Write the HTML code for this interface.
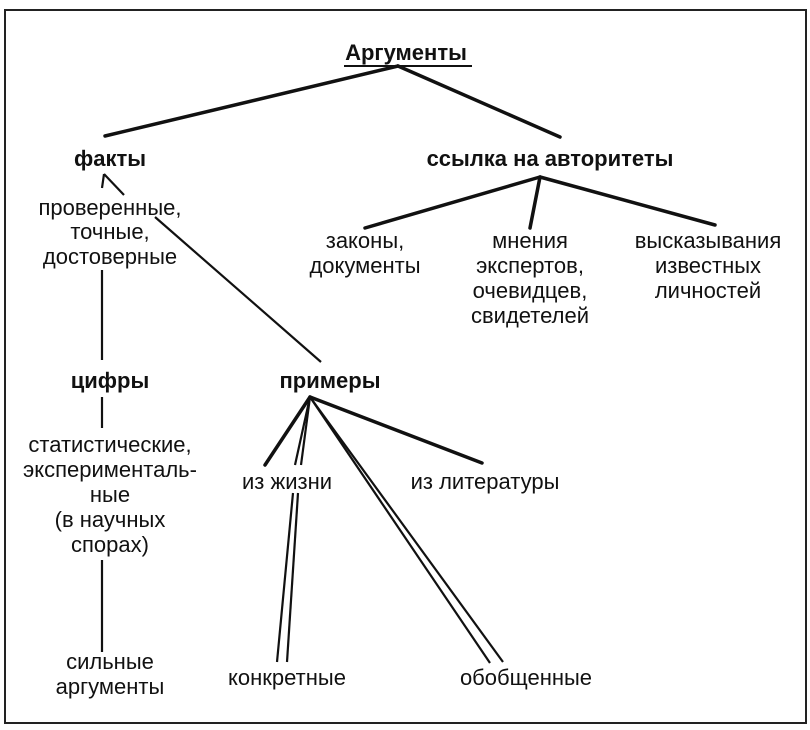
<!DOCTYPE html>
<html><head><meta charset="utf-8"><style>
html,body{margin:0;padding:0;background:#fff;}
svg{display:block;}
text{font-family:"Liberation Sans","DejaVu Sans",sans-serif;font-size:22px;fill:#111;text-anchor:middle;}
.b{font-weight:bold;}
</style></head><body>
<svg width="810" height="730" viewBox="0 0 810 730">
<rect x="5" y="10" width="801" height="713" fill="none" stroke="#222" stroke-width="2"/>
<g stroke="#111" stroke-width="3.5" fill="none" stroke-linecap="round">
<line x1="398" y1="66" x2="105" y2="136"/>
<line x1="398" y1="66" x2="560" y2="137"/>
<line x1="540" y1="177" x2="365" y2="228"/>
<line x1="540" y1="177" x2="530" y2="228"/>
<line x1="540" y1="177" x2="715" y2="225"/>
<line x1="310" y1="397" x2="482" y2="463"/>
<line x1="310" y1="397" x2="265" y2="465"/>
</g>
<g stroke="#111" stroke-width="2.2" fill="none">
<line x1="104" y1="174" x2="124" y2="195"/>
<line x1="104" y1="174" x2="102" y2="188"/>
<line x1="155" y1="217" x2="321" y2="362"/>
<line x1="102" y1="270" x2="102" y2="360"/>
<line x1="102" y1="397" x2="102" y2="428"/>
<line x1="102" y1="560" x2="102" y2="652"/>
<line x1="310" y1="397" x2="295" y2="465"/>
<line x1="310" y1="397" x2="301" y2="465"/>
<line x1="293" y1="493" x2="277" y2="662"/>
<line x1="298" y1="493" x2="287" y2="662"/>
<line x1="310" y1="397" x2="490" y2="663"/>
<line x1="310" y1="397" x2="503" y2="662"/>
</g>
<text class="b" x="406" y="60">Аргументы</text>
<line x1="344" y1="66" x2="472" y2="66" stroke="#111" stroke-width="2"/>
<text class="b" x="110" y="166">факты</text>
<text class="b" x="550" y="166">ссылка на авторитеты</text>
<text x="110" y="215">проверенные,</text>
<text x="110" y="239">точные,</text>
<text x="110" y="264">достоверные</text>
<text x="365" y="248">законы,</text>
<text x="365" y="273">документы</text>
<text x="530" y="248">мнения</text>
<text x="530" y="273">экспертов,</text>
<text x="530" y="298">очевидцев,</text>
<text x="530" y="323">свидетелей</text>
<text x="708" y="248">высказывания</text>
<text x="708" y="273">известных</text>
<text x="708" y="298">личностей</text>
<text class="b" x="110" y="388">цифры</text>
<text class="b" x="330" y="388">примеры</text>
<text x="110" y="452">статистические,</text>
<text x="110" y="477">эксперименталь-</text>
<text x="110" y="502">ные</text>
<text x="110" y="527">(в научных</text>
<text x="110" y="552">спорах)</text>
<text x="110" y="669">сильные</text>
<text x="110" y="694">аргументы</text>
<text x="287" y="489">из жизни</text>
<text x="485" y="489">из литературы</text>
<text x="287" y="685">конкретные</text>
<text x="526" y="685">обобщенные</text>
</svg>
</body></html>
